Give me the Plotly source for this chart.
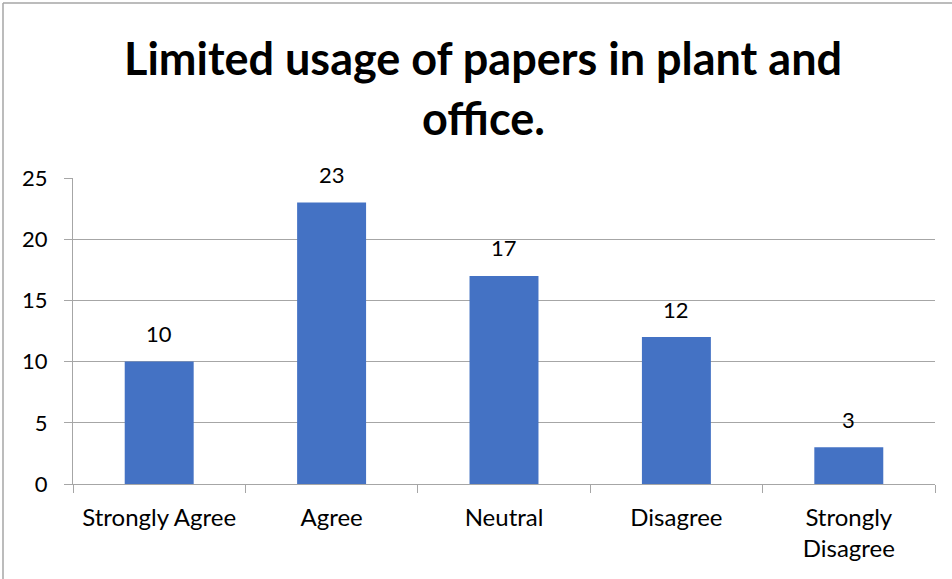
import plotly.graph_objects as go

categories = ["Strongly Agree", "Agree", "Neutral", "Disagree", "Strongly<br>Disagree"]
values = [10, 23, 17, 12, 3]
y_ticks = [0, 5, 10, 15, 20, 25]
title_lines = ["Limited usage of papers in plant and", "office."]

W, H = 952, 579
L, R, T, B = 73, 17, 178, 95
pw, ph = W - L - R, H - T - B
FONT = "Lato"

fig = go.Figure(go.Bar(
    x=categories, y=values,
    marker=dict(color="#4472C4", line=dict(width=0)),
))

def px_x(p):
    return (p - L) / pw

def px_y(p):
    return (H - B - p) / ph

annotations = []
for c, v in zip(categories, values):
    annotations.append(dict(
        x=c, y=v, xref="x", yref="y", text=str(v), showarrow=False,
        yanchor="middle", yshift=28,
        font=dict(size=22, color="#000000", family=FONT),
    ))
for line, yc in zip(title_lines, [58, 118]):
    annotations.append(dict(
        x=px_x(483), xref="paper", y=px_y(yc), yref="paper", text=f"<b>{line}</b>",
        showarrow=False, xanchor="center", yanchor="middle",
        font=dict(size=45, color="#000000", family=FONT),
    ))

fig.update_layout(
    width=W, height=H,
    margin=dict(l=L, r=R, t=T, b=B),
    paper_bgcolor="white", plot_bgcolor="white",
    bargap=0.6,
    showlegend=False,
    font=dict(family=FONT, size=22, color="#000000"),
    annotations=annotations,
    xaxis=dict(
        showline=True, linecolor="#A6A6A6", linewidth=1,
        ticks="outside", tickson="boundaries", ticklen=8, tickcolor="#A6A6A6",
        ticklabelstandoff=12,
        showgrid=False, tickfont=dict(size=24, color="#000000"),
    ),
    yaxis=dict(
        range=[0, 25], tickvals=y_ticks,
        showline=True, linecolor="#A6A6A6", linewidth=1,
        showgrid=True, gridcolor="#A6A6A6", gridwidth=1,
        ticks="outside", ticklen=8, tickcolor="#A6A6A6",
        ticklabelstandoff=12,
        zeroline=False, tickfont=dict(size=22, color="#000000"),
    ),
    shapes=[
        dict(type="line", xref="paper", yref="paper",
             x0=px_x(3), x1=px_x(3), y0=px_y(3), y1=px_y(H + 5),
             line=dict(color="#A6A6A6", width=1.5)),
        dict(type="line", xref="paper", yref="paper",
             x0=px_x(3), x1=px_x(W + 5), y0=px_y(3), y1=px_y(3),
             line=dict(color="#A6A6A6", width=1.5)),
    ],
)

fig.write_html("out.html")
